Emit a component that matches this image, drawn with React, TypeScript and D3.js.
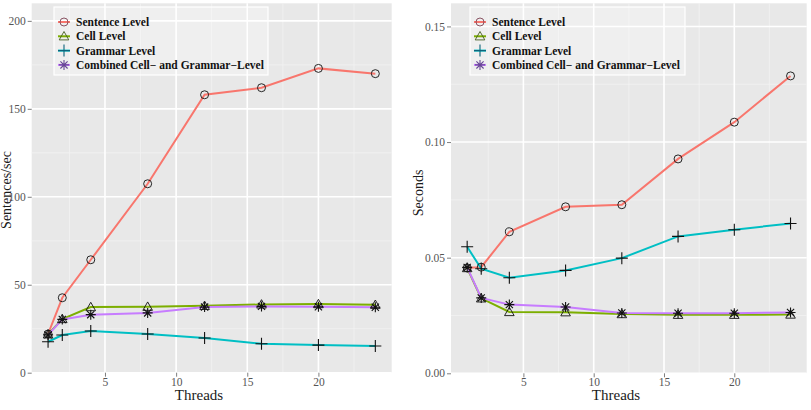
import { useEffect, useRef } from "react";
import * as d3 from "d3";

// thread counts used on both panels
const threads = [1, 2, 4, 8, 12, 16, 20, 24];

const seriesNames = [
  "Sentence Level",
  "Cell Level",
  "Grammar Level",
  "Combined Cell\u2212 and Grammar\u2212Level",
];
const seriesColors = ["#F8766D", "#7CAE00", "#00BFC4", "#C77CFF"];
const seriesShapes = ["circle", "triangle", "plus", "star"];

// left panel: throughput (sentences/sec)
const sentenceRate = [22, 42.6, 64.2, 107.4, 158, 162, 173, 170];
const cellRate = [21.8, 30.5, 37.3, 37.5, 38, 38.8, 39, 38.6];
const grammarRate = [17.6, 21.4, 23.7, 22, 19.7, 16.5, 15.7, 15.2];
const combinedRate = [21.5, 30.3, 33, 34, 37.3, 37.7, 37.5, 37.2];

// right panel: time per sentence (seconds)
const sentenceSecs = [0.0456, 0.0459, 0.0612, 0.072, 0.0729, 0.0927, 0.1086, 0.1286];
const cellSecs = [0.0455, 0.0324, 0.0265, 0.0264, 0.0256, 0.0253, 0.0253, 0.0254];
const grammarSecs = [0.0547, 0.0452, 0.0413, 0.0445, 0.0498, 0.0592, 0.0621, 0.0648];
const combinedSecs = [0.0458, 0.0326, 0.0297, 0.0287, 0.0261, 0.026, 0.026, 0.0263];

const xTicks = [5, 10, 15, 20];
const xMinor = [2.5, 7.5, 12.5, 17.5, 22.5];
const rateTicks = [0, 50, 100, 150, 200];
const rateMinor = [25, 75, 125, 175];
const secTicks = [0, 0.05, 0.1, 0.15];
const secMinor = [0.025, 0.075, 0.125];

const FONT = "Liberation Serif, Times New Roman, Times, serif";

function drawShape(g: any, shape: string, x: number, y: number, stroke: string) {
  if (shape === "circle") {
    g.append("circle").attr("cx", x).attr("cy", y).attr("r", 4)
      .attr("fill", "none").attr("stroke", stroke).attr("stroke-width", 0.9);
  } else if (shape === "triangle") {
    const s = 4.8;
    g.append("path")
      .attr("d", `M${x},${y - s}L${x + s},${y + s * 0.75}L${x - s},${y + s * 0.75}Z`)
      .attr("fill", "none").attr("stroke", stroke).attr("stroke-width", 0.9);
  } else if (shape === "plus") {
    const s = 6;
    g.append("path")
      .attr("d", `M${x - s},${y}L${x + s},${y}M${x},${y - s}L${x},${y + s}`)
      .attr("stroke", stroke).attr("stroke-width", 1.1);
  } else {
    const s = 5, d = 3.6;
    g.append("path")
      .attr("d", `M${x - s},${y}L${x + s},${y}M${x},${y - s}L${x},${y + s}` +
        `M${x - d},${y - d}L${x + d},${y + d}M${x - d},${y + d}L${x + d},${y - d}`)
      .attr("stroke", stroke).attr("stroke-width", 1.1);
  }
}

type PanelOpts = {
  left: number; right: number; top: number; bottom: number;
  yDomain: [number, number];
  yTicks: number[]; yMinor: number[];
  tickFormat: (v: number) => string;
  data: number[][];
  yLabel: string; yLabelX: number; yLabelY: number;
  xLabelX: number;
  legendX: number; legendW: number;
};

function drawPanel(svg: any, o: PanelOpts) {
  const x = d3.scaleLinear().domain([-0.15, 25.15]).range([o.left, o.right]);
  const y = d3.scaleLinear().domain(o.yDomain).range([o.bottom, o.top]);

  svg.append("rect").attr("x", o.left).attr("y", o.top)
    .attr("width", o.right - o.left).attr("height", o.bottom - o.top)
    .attr("fill", "#E8E8E8");

  // minor grid
  xMinor.forEach((v) => svg.append("line").attr("x1", x(v)).attr("x2", x(v))
    .attr("y1", o.top).attr("y2", o.bottom).attr("stroke", "#F3F3F3").attr("stroke-width", 0.8));
  o.yMinor.forEach((v) => svg.append("line").attr("y1", y(v)).attr("y2", y(v))
    .attr("x1", o.left).attr("x2", o.right).attr("stroke", "#F3F3F3").attr("stroke-width", 0.8));
  // major grid
  xTicks.forEach((v) => svg.append("line").attr("x1", x(v)).attr("x2", x(v))
    .attr("y1", o.top).attr("y2", o.bottom).attr("stroke", "#FFFFFF").attr("stroke-width", 1.6));
  o.yTicks.forEach((v) => svg.append("line").attr("y1", y(v)).attr("y2", y(v))
    .attr("x1", o.left).attr("x2", o.right).attr("stroke", "#FFFFFF").attr("stroke-width", 1.6));

  // axes
  const xAxis = svg.append("g").attr("transform", `translate(0,${o.bottom})`)
    .call(d3.axisBottom(x).tickValues(xTicks).tickSize(4).tickPadding(1).tickFormat(d3.format("d")));
  const yAxis = svg.append("g").attr("transform", `translate(${o.left},0)`)
    .call(d3.axisLeft(y).tickValues(o.yTicks).tickSize(4).tickPadding(2)
      .tickFormat((d: any) => o.tickFormat(d)));
  [xAxis, yAxis].forEach((a) => {
    a.select(".domain").remove();
    a.selectAll("line").attr("stroke", "#7F7F7F");
    a.selectAll("text").attr("fill", "#555").style("font-family", FONT).style("font-size", "11.5px");
  });

  svg.append("text").attr("x", o.xLabelX).attr("y", 400).attr("text-anchor", "middle")
    .style("font-family", FONT).style("font-size", "15px").attr("fill", "#1a1a1a").text("Threads");
  svg.append("text")
    .attr("transform", `translate(${o.yLabelX},${o.yLabelY})rotate(-90)`)
    .attr("text-anchor", "middle")
    .style("font-family", FONT).style("font-size", "14px").attr("fill", "#1a1a1a").text(o.yLabel);

  const line = d3.line<number>().x((_, i) => x(threads[i])).y((d) => y(d));
  o.data.forEach((vals, si) => {
    svg.append("path").datum(vals).attr("d", line).attr("fill", "none")
      .attr("stroke", seriesColors[si]).attr("stroke-width", 2);
  });
  o.data.forEach((vals, si) => {
    const g = svg.append("g");
    vals.forEach((v, i) => drawShape(g, seriesShapes[si], x(threads[i]), y(v), "#111"));
  });

  // legend
  const lg = svg.append("g");
  lg.append("rect").attr("x", o.legendX).attr("y", 7).attr("width", o.legendW).attr("height", 68)
    .attr("fill", "#FFFFFF").attr("fill-opacity", 0.3).attr("stroke", "#FFFFFF").attr("stroke-width", 1.2);
  seriesNames.forEach((name, si) => {
    const cy = 22 + si * 14.3;
    const kx = o.legendX + 10;
    lg.append("line").attr("x1", kx - 6).attr("x2", kx + 6).attr("y1", cy).attr("y2", cy)
      .attr("stroke", seriesColors[si]).attr("stroke-width", 2);
    drawShape(lg, seriesShapes[si], kx, cy, d3.interpolateRgb(seriesColors[si], "#1a1a40")(0.55));
    lg.append("text").attr("x", o.legendX + 22).attr("y", cy + 4)
      .style("font-family", FONT).style("font-size", "11.5px").style("font-weight", "bold")
      .attr("fill", "#111").text(name);
  });
}

export default function App() {
  const ref = useRef<SVGSVGElement>(null);
  useEffect(() => {
    const svg = d3.select(ref.current);
    svg.selectAll("*").remove();
    svg.append("rect").attr("width", 811).attr("height", 410).attr("fill", "#fff");

    drawPanel(svg, {
      left: 31.7, right: 391.7, top: 3.3, bottom: 372.7,
      yDomain: [0, 210], yTicks: rateTicks, yMinor: rateMinor,
      tickFormat: (v) => String(v),
      data: [sentenceRate, cellRate, grammarRate, combinedRate],
      yLabel: "Sentences/sec", yLabelX: 10.5, yLabelY: 190, xLabelX: 199,
      legendX: 54, legendW: 214,
    });
    drawPanel(svg, {
      left: 451, right: 806.7, top: 3.3, bottom: 373.3,
      yDomain: [0, 0.16], yTicks: secTicks, yMinor: secMinor,
      tickFormat: (v) => d3.format(".2f")(v),
      data: [sentenceSecs, cellSecs, grammarSecs, combinedSecs],
      yLabel: "Seconds", yLabelX: 423, yLabelY: 193, xLabelX: 616,
      legendX: 470, legendW: 215,
    });
  }, []);

  return (
    <svg ref={ref} width={811} height={410}
      style={{ position: "absolute", left: 0, top: 0, display: "block" }} />
  );
}
